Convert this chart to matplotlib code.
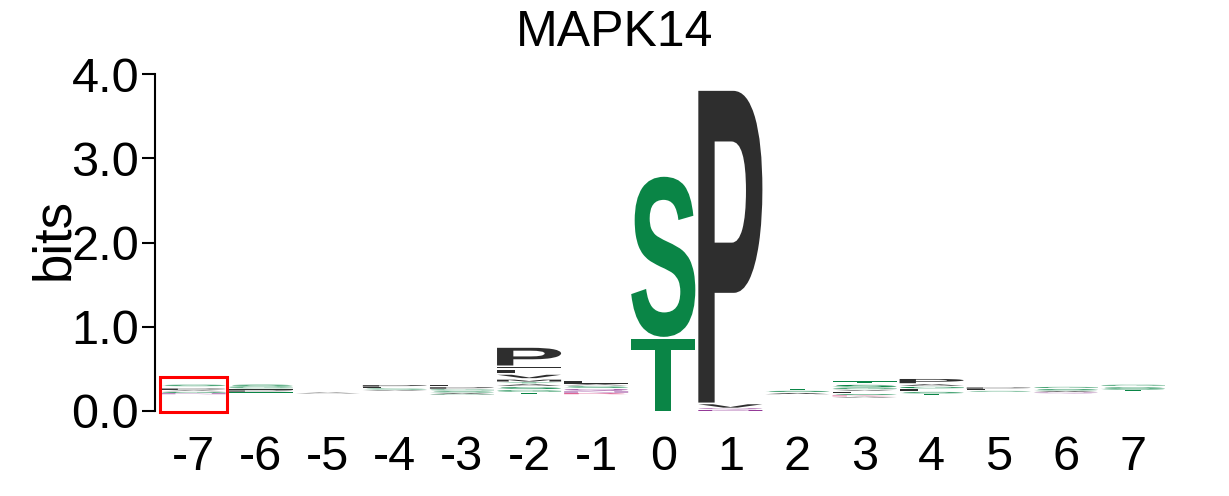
import matplotlib
matplotlib.use("Agg")
import matplotlib.pyplot as plt
from matplotlib.textpath import TextPath
from matplotlib.font_manager import FontProperties
from matplotlib.patches import PathPatch, Rectangle
from matplotlib.transforms import Affine2D

# -------------------------------------------------
# data: positions, hidden floor and letter stacks
# -------------------------------------------------
positions = [-7, -6, -5, -4, -3, -2, -1, 0, 1, 2, 3, 4, 5, 6, 7]
tick_labels = ["-7", "-6", "-5", "-4", "-3", "-2", "-1", "0", "1", "2", "3", "4", "5", "6", "7"]

# residual information under the visible letters (too small to draw)
floor = [0.20, 0.21, 0.21, 0.24, 0.19, 0.20, 0.20, 0.0, 0.0, 0.20, 0.16, 0.19, 0.23, 0.21, 0.22]

# letters bottom -> top, heights in bits
stacks = [
    [("N", 0.015), ("G", 0.02), ("A", 0.015), ("P", 0.03), ("L", 0.015), ("S", 0.03)],
    [("T", 0.02), ("P", 0.025), ("L", 0.015), ("G", 0.02), ("S", 0.04)],
    [("A", 0.015)],
    [("V", 0.015), ("S", 0.02), ("L", 0.015), ("P", 0.03)],
    [("G", 0.01), ("A", 0.02), ("S", 0.025), ("G", 0.02), ("P", 0.03), ("L", 0.035)],
    [("T", 0.03), ("G", 0.03), ("S", 0.04), ("A", 0.03), ("Y", 0.02), ("M", 0.04),
     ("V", 0.06), ("L", 0.06), ("I", 0.03), ("P", 0.23)],
    [("R", 0.02), ("N", 0.02), ("Q", 0.035), ("S", 0.03), ("A", 0.02), ("L", 0.05)],
    [("T", 0.88), ("S", 1.92)],
    [("N", 0.02), ("Q", 0.02), ("V", 0.06), ("P", 3.72)],
    [("A", 0.025), ("S", 0.025), ("T", 0.02)],
    [("A", 0.015), ("K", 0.015), ("S", 0.02), ("L", 0.03), ("V", 0.02), ("G", 0.02),
     ("S", 0.05), ("T", 0.04)],
    [("T", 0.02), ("S", 0.03), ("L", 0.03), ("G", 0.03), ("A", 0.03), ("P", 0.07)],
    [("S", 0.015), ("L", 0.02), ("P", 0.025)],
    [("Q", 0.015), ("A", 0.02), ("S", 0.03), ("G", 0.02)],
    [("L", 0.015), ("T", 0.02), ("S", 0.045), ("G", 0.02)],
]

green = "#0a8546"
dark = "#2e2e2e"
purple = "#8b2a8f"
pink = "#d63a78"
colors = {}
for aa in "STGYC":
    colors[aa] = green
for aa in "AVLIPFMW":
    colors[aa] = dark
for aa in "NQ":
    colors[aa] = purple
for aa in "DEKRH":
    colors[aa] = pink

font = FontProperties(family="Liberation Sans", weight="bold")
plt.rcParams["font.family"] = ["Liberation Sans", "DejaVu Sans"]


def draw_letter(ax, letter, x, y, w, h, color):
    # leave a small gap above each letter
    gap = min(0.02, 0.45 * h)
    h = h - gap
    tp = TextPath((0, 0), letter, size=1, prop=font)
    ext = tp.get_extents()
    tr = (Affine2D()
          .translate(-ext.x0, -ext.y0)
          .scale(w / ext.width, h / ext.height)
          .translate(x - w / 2, y))
    ax.add_patch(PathPatch(tr.transform_path(tp), facecolor=color,
                           edgecolor="none", lw=0))


fig = plt.figure(figsize=(12.29, 4.96), dpi=100)
ax = fig.add_axes([155 / 1229, 85 / 496, (1166.5 - 155) / 1229, 337 / 496])

for pos, base, stack in zip(positions, floor, stacks):
    y = base
    for letter, h in stack:
        draw_letter(ax, letter, pos, y, 0.955, h, colors[letter])
        y += h

# highlight box around position -7
ax.add_patch(Rectangle((-7.5, -0.01), 1.0, 0.41, fill=False, edgecolor="#ff0000",
                       lw=2.2, clip_on=False))

ax.set_xlim(-7.575, 7.5)
ax.set_ylim(0, 4)
for side in ["top", "right", "bottom"]:
    ax.spines[side].set_visible(False)
ax.spines["left"].set_linewidth(1.5)
ax.spines["left"].set_bounds(0, 4)

ax.set_yticks([0, 1, 2, 3, 4])
ax.set_yticklabels(["0.0", "1.0", "2.0", "3.0", "4.0"])
ax.tick_params(axis="y", length=9.5, width=1.5, pad=2, labelsize=35)
ax.set_xticks(positions)
ax.set_xticklabels(tick_labels)
ax.tick_params(axis="x", length=0, pad=17, labelsize=35)

ax.set_ylabel("bits", fontsize=38)
ax.yaxis.set_label_coords(-0.075, 0.51)

fig.text(0.5, (496 - 46) / 496, "MAPK14", ha="center", va="baseline", fontsize=36)

fig.savefig("out.png", dpi=100)
